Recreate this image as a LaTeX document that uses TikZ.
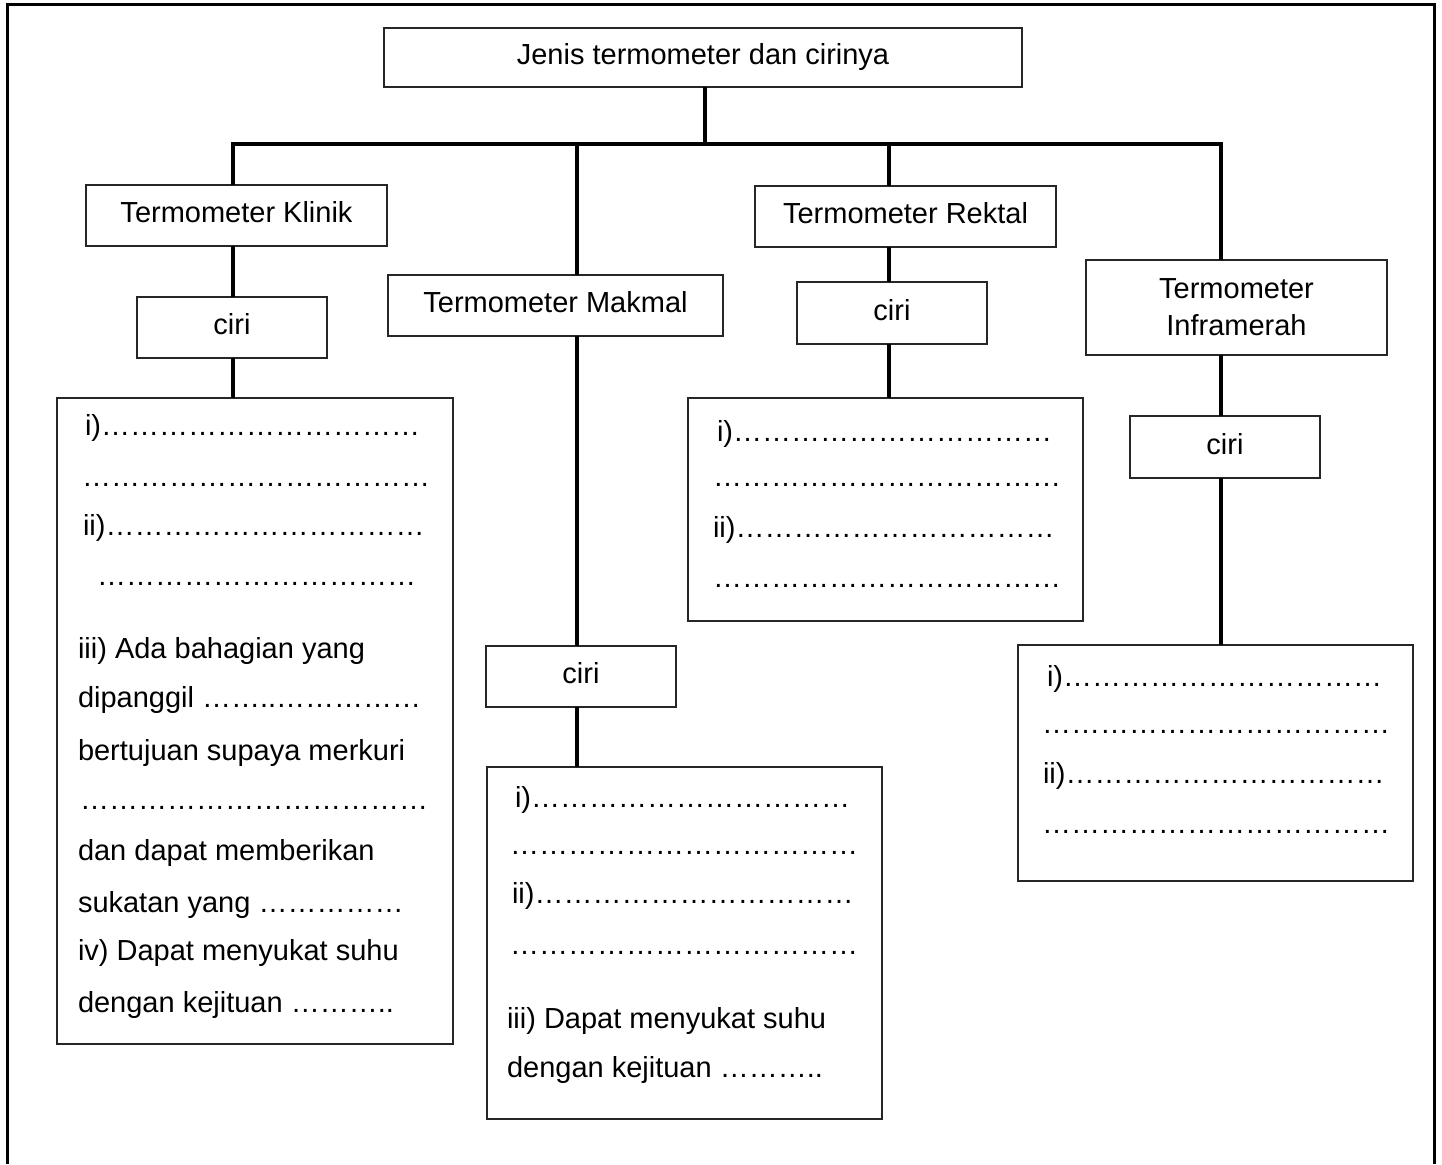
\documentclass[tikz,border=0pt]{standalone}
\usepackage{fontspec}
\setmainfont{Liberation Sans}

% a run of n ellipsis characters (answer blanks)
\ExplSyntaxOn
\cs_new:Npn \ellrun #1 { \prg_replicate:nn {#1} { … } }
\ExplSyntaxOff

\tikzset{
  every node/.style={font=\fontsize{29}{36.7}\selectfont, inner sep=0pt, outer sep=0pt},
  box/.style={draw=black!85, line width=1.3pt, anchor=north west},
  lbl/.style={text depth=6.1pt},
  conn/.style={line width=4pt, line join=miter},
  frame/.style={line width=3pt, line join=miter},
  entry/.style={anchor=base west},
}

\begin{document}
\begin{tikzpicture}[x=1pt, y=-1pt]
\useasboundingbox (0,0) rectangle (1442,1164);

% outer frame (open at the bottom)
\draw[frame] (7,1164) -- (7,5) -- (1434,5) -- (1434,1164);

% branch points on the horizontal bar
\coordinate (trunk) at (705,144);
\coordinate (bK) at (233,144);
\coordinate (bM) at (577,144);
\coordinate (bR) at (889,144);
\coordinate (bI) at (1221,144);

% boxes
\node[box, lbl, minimum width=638pt, minimum height=59pt] (title) at (384,28) {Jenis termometer dan cirinya};

\node[box, lbl, minimum width=301pt, minimum height=61pt] (klinik) at (86,185) {Termometer Klinik};
\node[box, lbl, minimum width=190pt, minimum height=61pt] (ciriK) at (137,297) {ciri};
\node[box, minimum width=396pt, minimum height=646pt] (textK) at (57,398) {};

\node[box, lbl, minimum width=335pt, minimum height=61pt] (makmal) at (388,275) {Termometer Makmal};
\node[box, lbl, minimum width=190pt, minimum height=61pt] (ciriM) at (486,646) {ciri};
\node[box, minimum width=395pt, minimum height=352pt] (textM) at (487,767) {};

\node[box, lbl, minimum width=301pt, minimum height=61pt] (rektal) at (755,186) {Termometer Rektal};
\node[box, lbl, minimum width=190pt, minimum height=62pt] (ciriR) at (797,282) {ciri};
\node[box, minimum width=395pt, minimum height=223pt] (textR) at (688,398) {};

\node[box, align=center, minimum width=301pt, minimum height=95pt] (infra) at (1086,260) {Termometer\\Inframerah};
\node[box, lbl, minimum width=190pt, minimum height=62pt] (ciriI) at (1130,416) {ciri};
\node[box, minimum width=395pt, minimum height=236pt] (textI) at (1018,645) {};

% connectors
\draw[conn] (title.south -| trunk) -- (trunk);
\draw[conn] (klinik.north -| bK) -- (bK) -- (bI) -- (infra.north -| bI);
\draw[conn] (bM) -- (makmal.north -| bM);
\draw[conn] (bR) -- (rektal.north -| bR);

\draw[conn] (klinik.south -| bK) -- (ciriK.north -| bK);
\draw[conn] (ciriK.south -| bK) -- (textK.north -| bK);

\draw[conn] (makmal.south -| bM) -- (ciriM.north -| bM);
\draw[conn] (ciriM.south -| bM) -- (textM.north -| bM);

\draw[conn] (rektal.south -| bR) -- (ciriR.north -| bR);
\draw[conn] (ciriR.south -| bR) -- (textR.north -| bR);

\draw[conn] (infra.south -| bI) -- (ciriI.north -| bI);
\draw[conn] (ciriI.south -| bI) -- (textI.north -| bI);

% entries: Termometer Klinik
\foreach \x/\y/\t [count=\n] in {
  85/435/{i)\ellrun{11}},
  82/486/{\ellrun{12}},
  83/535/{ii)\ellrun{11}},
  97/585/{\ellrun{11}},
  78/658/{iii) Ada bahagian yang},
  78/707/{dipanggil \ellrun{2}..\ellrun{5}},
  78/760/{bertujuan supaya merkuri},
  80/809/{\ellrun{12}},
  78/860/{dan dapat memberikan},
  78/912/{sukatan yang \ellrun{5}},
  78/960/{iv) Dapat menyukat suhu},
  78/1012/{dengan kejituan \ellrun{3}..}}
  \node[entry] (k\n) at (\x,\y) {\t};

% entries: Termometer Makmal
\foreach \x/\y/\t [count=\n] in {
  515/807/{i)\ellrun{11}},
  510/854/{\ellrun{12}},
  512/903/{ii)\ellrun{11}},
  510/954/{\ellrun{12}},
  507/1028/{iii) Dapat menyukat suhu},
  507/1077/{dengan kejituan \ellrun{3}..}}
  \node[entry] (m\n) at (\x,\y) {\t};

% entries: Termometer Rektal
\foreach \x/\y/\t [count=\n] in {
  717/441/{i)\ellrun{11}},
  713/486/{\ellrun{12}},
  713/537/{ii)\ellrun{11}},
  713/587/{\ellrun{12}}}
  \node[entry] (r\n) at (\x,\y) {\t};

% entries: Termometer Inframerah
\foreach \x/\y/\t [count=\n] in {
  1047/686/{i)\ellrun{11}},
  1042/733/{\ellrun{12}},
  1043/783/{ii)\ellrun{11}},
  1042/833/{\ellrun{12}}}
  \node[entry] (f\n) at (\x,\y) {\t};
\end{tikzpicture}
\end{document}
